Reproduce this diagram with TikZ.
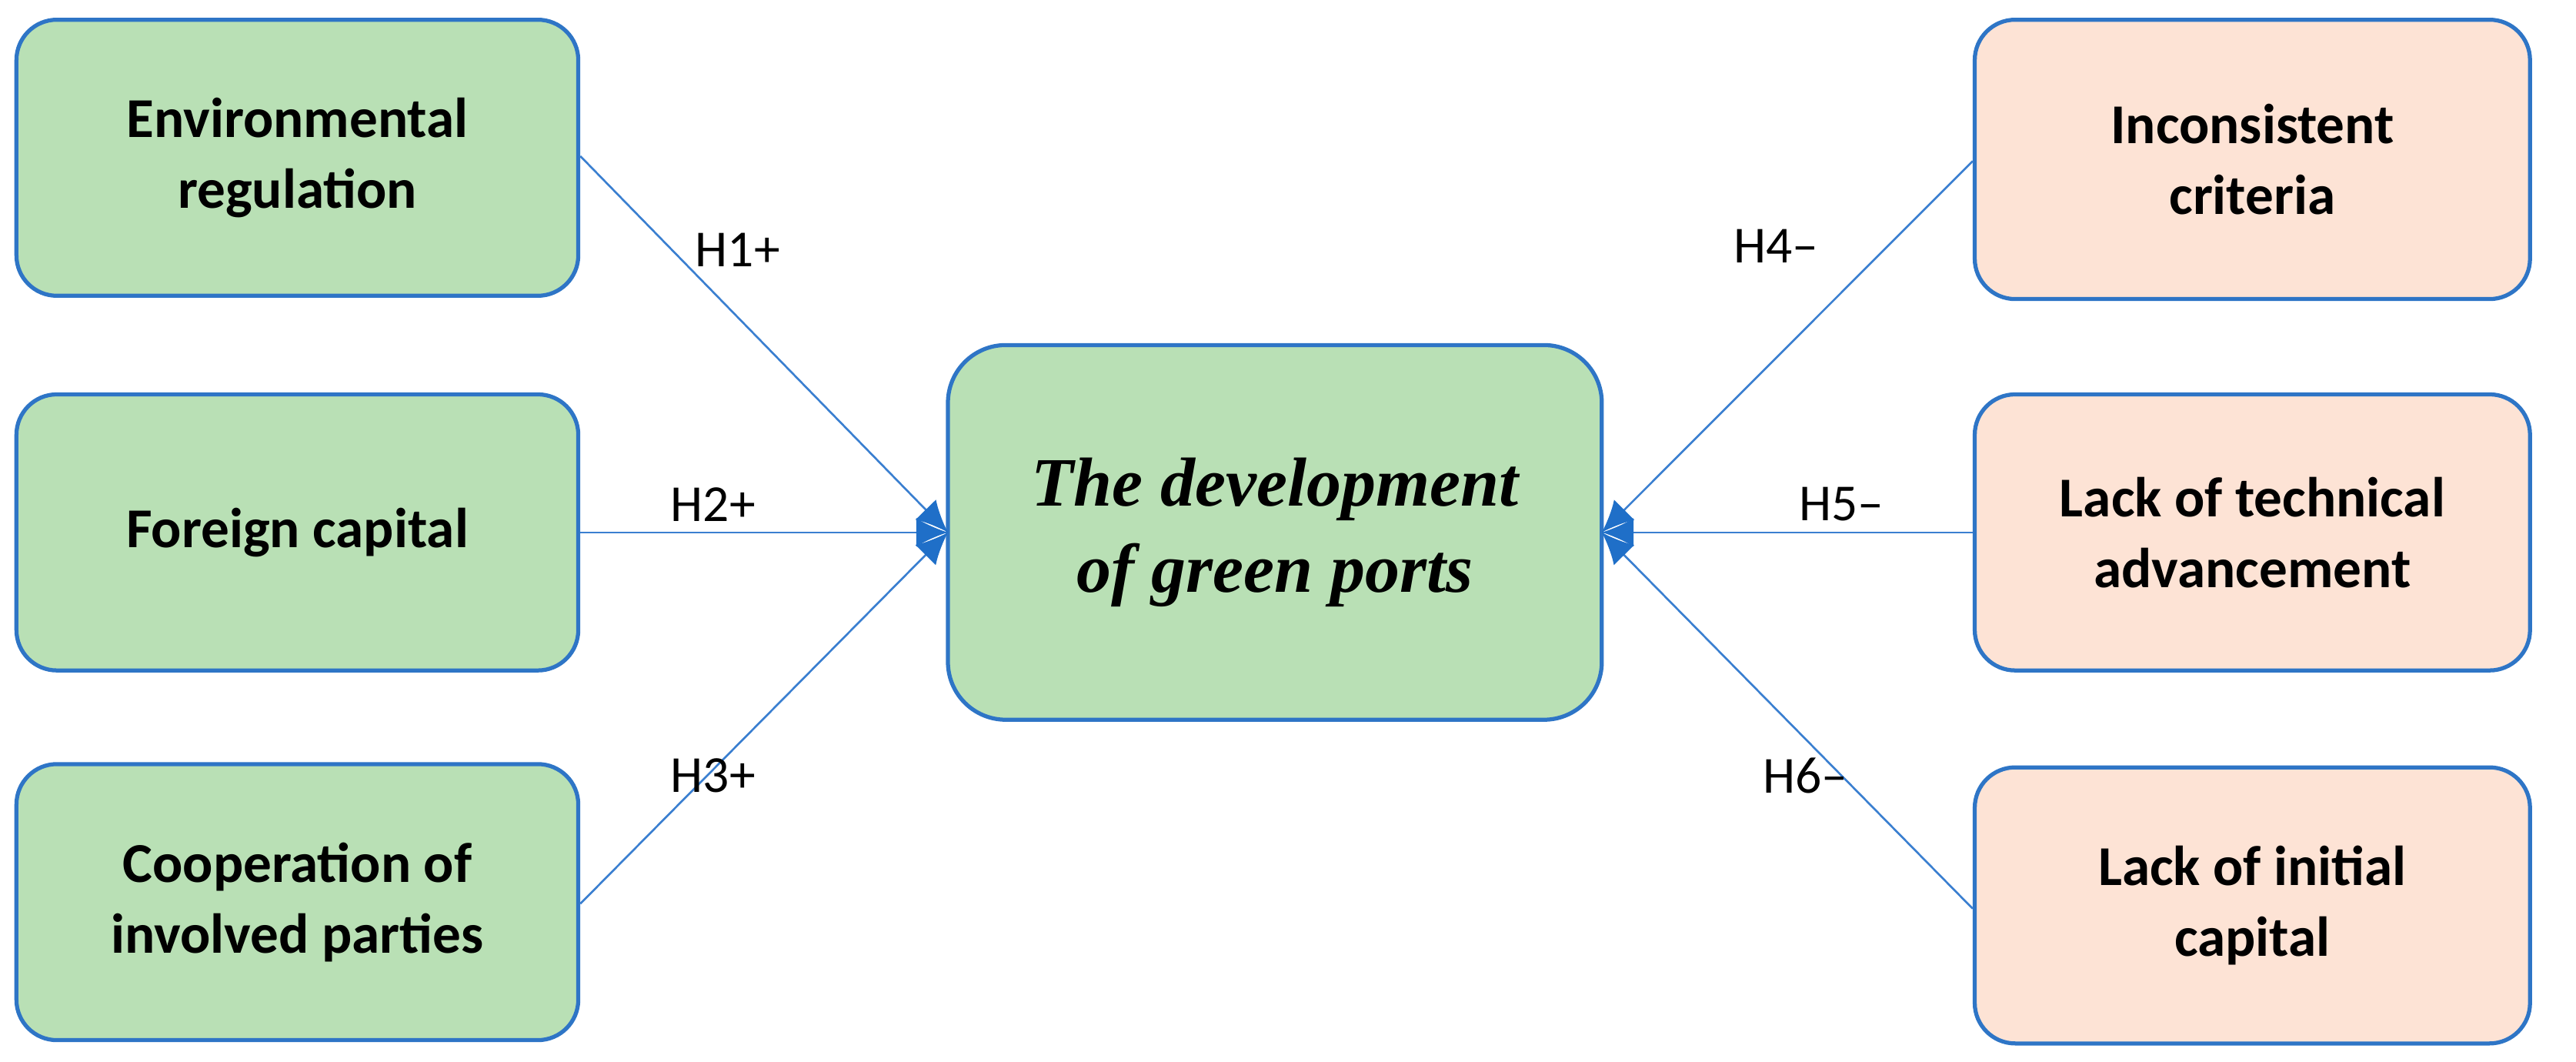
\documentclass[tikz,border=0pt]{standalone}
\usepackage{fontspec}
\setmainfont{Carlito}
\newfontfamily\ctrfont{Liberation Serif}
\usetikzlibrary{arrows.meta}
\definecolor{bdr}{HTML}{2E75C6}
\definecolor{gfill}{HTML}{B9E0B5}
\definecolor{pfill}{HTML}{FDE3D5}
\definecolor{lnc}{HTML}{3A7FD0}
\definecolor{ahc}{HTML}{1F6FC8}
\begin{document}
\begin{tikzpicture}[x=0.02cm,y=-0.02cm,
  box/.style={draw=bdr,line width=1.4pt,rounded corners=14pt,inner sep=0pt,align=center,font=\fontsize{19.5}{24.5}\selectfont\bfseries},
  gbox/.style={box,fill=gfill},
  pbox/.style={box,fill=pfill},
  conn/.style={draw=lnc,line width=0.7pt,-{Latex[length=11pt,width=10pt,fill=ahc,color=ahc]}},
  lab/.style={font=\fontsize{18}{20}\selectfont}]
\useasboundingbox (0,0) rectangle (1568,646);
\node[gbox,minimum width=342*0.02cm,minimum height=168*0.02cm] (a) at (181,96) {Environmental\\regulation};
\node[gbox,minimum width=342*0.02cm,minimum height=168*0.02cm] (b) at (181,324) {Foreign capital};
\node[gbox,minimum width=342*0.02cm,minimum height=168*0.02cm] (c) at (181,549) {Cooperation of\\involved parties};
\node[gbox,minimum width=398*0.02cm,minimum height=228*0.02cm,rounded corners=20pt,font=\ctrfont\fontsize{24}{30}\selectfont\bfseries\itshape] (m) at (776,324) {The development\\of green ports};
\node[pbox,minimum width=338*0.02cm,minimum height=170*0.02cm] (d) at (1371,97) {Inconsistent\\criteria};
\node[pbox,minimum width=338*0.02cm,minimum height=168*0.02cm] (e) at (1371,324) {Lack of technical\\advancement};
\node[pbox,minimum width=338*0.02cm,minimum height=168*0.02cm] (f) at (1371,551) {Lack of initial\\capital};
\coordinate (ml) at (577,324);
\coordinate (mr) at (975,324);
\draw[conn] (a.east |- 0,95) -- (ml);
\draw[conn] (b.east) -- (ml);
\draw[conn] (c.east |- 0,550) -- (ml);
\draw[conn] (d.west |- 0,98) -- (mr);
\draw[conn] (e.west) -- (mr);
\draw[conn] (f.west |- 0,553) -- (mr);
\node[lab] (l1) at (449,152) {H1+};
\node[lab] (l2) at (434,307) {H2+};
\node[lab] (l3) at (434,472) {H3+};
\node[lab] (l4) at (1081,150) {H4–};
\node[lab] (l5) at (1121,307) {H5–};
\node[lab] (l6) at (1099,472) {H6–};
\end{tikzpicture}
\end{document}
